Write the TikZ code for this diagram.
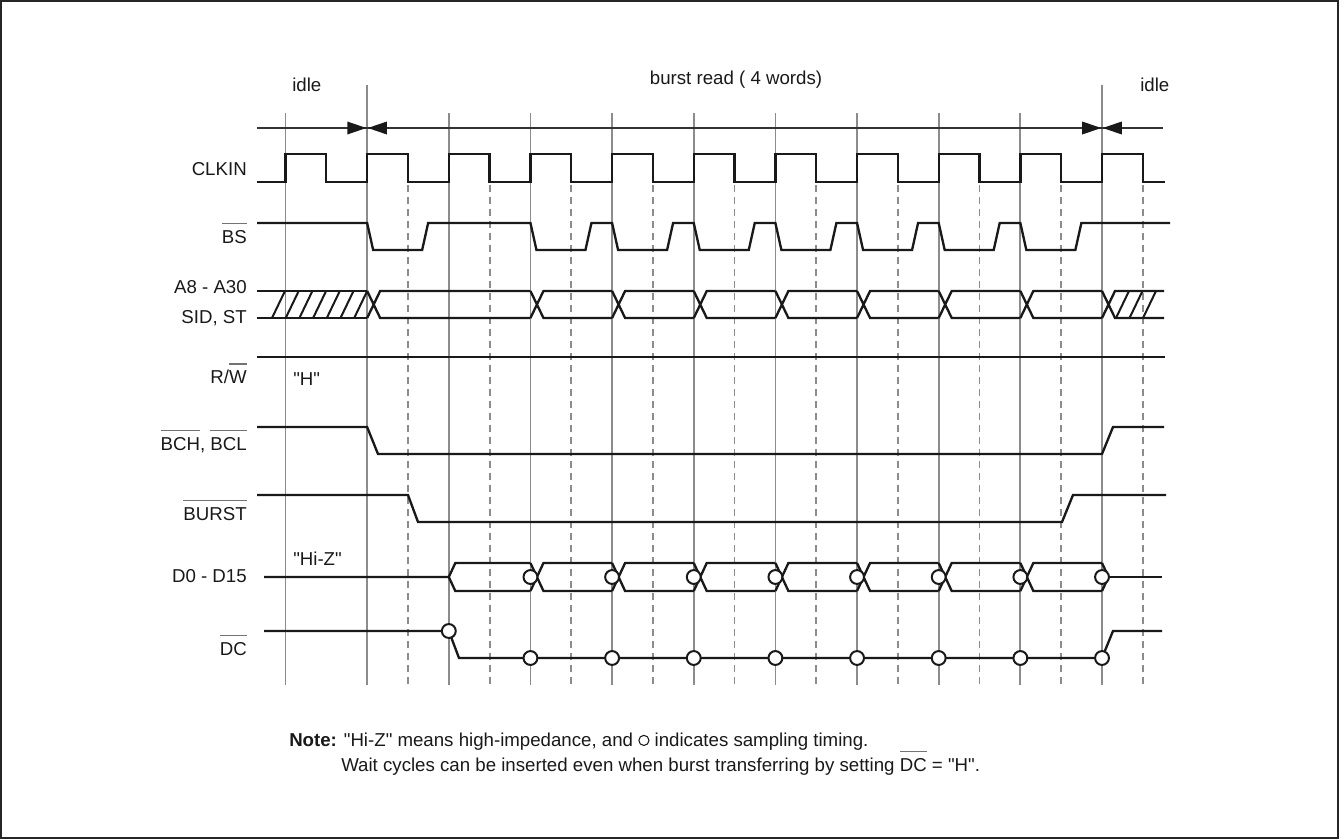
\documentclass[tikz,border=0pt]{standalone}
\usepackage{fontspec}
\setmainfont{Liberation Sans}[Ligatures=TeXOff]
\usetikzlibrary{arrows.meta}
\newcommand\ovl[1]{\vbox{{\color{black!55}\hrule height 0.8pt}\kern 4.2pt\hbox{#1}}}
\tikzset{
  gridline/.style={draw=black!45, line width=1.35pt},
  gridlined/.style={draw=black!45, line width=1.35pt, dash pattern=on 5.5pt off 3.5pt},
  sig/.style={draw=black!90, line width=1.75pt, line join=miter, miter limit=3},
  hatch/.style={draw=black!90, line width=1.5pt},
  lbl/.style={anchor=base east, inner sep=0pt, font=\fontsize{14}{16}\selectfont, text=black!90},
  txt/.style={anchor=base west, inner sep=0pt, font=\fontsize{14}{16}\selectfont, text=black!90},
  smp/.style={draw=black!90, fill=white, line width=1.5pt},
  dim/.style={draw=black!80, line width=0.8pt},
  tip/.style={fill=black!90, draw=none},
}
\begin{document}
\begin{tikzpicture}[x=0.75pt,y=-0.75pt]
\useasboundingbox (0,0) rectangle (1339,839);
\draw[line width=1.4pt, black!85] (1,1) rectangle (1338,838);

% grid lines
\foreach \i in {0,2,3,...,9} \draw[gridline] ({285.5+81.65*\i},113) -- ({285.5+81.65*\i},685);
\foreach \i in {1,10} \draw[gridline] ({285.5+81.65*\i},85) -- ({285.5+81.65*\i},685);
\foreach \i in {1,...,10} \draw[gridlined] ({326.3+81.65*\i},185) -- ({326.3+81.65*\i},685);

% phase dimension line
\coordinate (dl) at (257,128);
\coordinate (dm1) at (367.1,128);
\coordinate (dm2) at (1102,128);
\coordinate (dr) at (1163,128);
\draw[dim] (dl) -- (dr);
\fill[tip] ([xshift=-0.6pt]dm1) -- ++(-19,-6.5) -- ++(0,13) -- cycle;
\fill[tip] ([xshift=0.6pt]dm1) -- ++(19,-6.5) -- ++(0,13) -- cycle;
\fill[tip] ([xshift=-0.6pt]dm2) -- ++(-19,-6.5) -- ++(0,13) -- cycle;
\fill[tip] ([xshift=0.6pt]dm2) -- ++(19,-6.5) -- ++(0,13) -- cycle;

\node[txt] (idle1) at (292,91) {idle};
\node[txt, anchor=base] (burst) at (736,84) {burst read ( 4 words)};
\node[txt] (idle2) at (1140,91) {idle};

% CLKIN
\draw[sig] (257,182) foreach \i in {0,...,10} { -- ({285.5+81.65*\i},182) -- ++(0,-28) -- ++(40.8,0) -- ++(0,28) } -- (1165,182);

% BS
\draw[sig] (257,223) foreach \i in {1,3,4,5,6,7,8,9} { -- ({285.5+81.65*\i},223) -- ++(6,27) -- ++(49,0) -- ++(6,-27) } -- (1170,223);

% address bus
\draw[sig] (257,291) -- (367.1,291) (257,318) -- (367.1,318);
\foreach \k in {0,...,6} \draw[hatch] ({272+13.7*\k},318) -- ++(13,-27);
\foreach \a/\b in {1/3,3/4,4/5,5/6,6/7,7/8,8/9,9/10}
  \draw[sig] ({285.5+81.65*\a},291) -- ++(13,27) -- ({285.5+81.65*\b},318)
             ({285.5+81.65*\a},318) -- ++(13,-27) -- ({285.5+81.65*\b},291);
\draw[sig] (1102,291) -- ++(13,27) -- (1164,318) (1102,318) -- ++(13,-27) -- (1164,291);
\foreach \k in {0,1,2} \draw[hatch] ({1116+13.5*\k},318) -- ++(13,-27);

% R/W
\draw[sig] (257,357) -- (1165,357);

% BCH, BCL
\draw[sig] (257,427) -- (367.1,427) -- (378,454) -- (1102,454) -- (1113,427) -- (1164,427);

% BURST
\draw[sig] (257,495) -- (408,495) -- (418,522) -- (1062,522) -- (1073,495) -- (1166,495);

% D0 - D15
\draw[sig] (264,577) -- (448.8,577) -- ++(6.5,-14) -- (530.45,563)
           (448.8,577) -- ++(6.5,14) -- (530.45,591);
\foreach \a/\b in {3/4,4/5,5/6,6/7,7/8,8/9,9/10}
  \draw[sig] ({285.5+81.65*\a},563) -- ++(13,28) -- ({285.5+81.65*\b},591)
             ({285.5+81.65*\a},591) -- ++(13,-28) -- ({285.5+81.65*\b},563);
\draw[sig] (1102,563) -- ++(6.5,14) -- ++(-6.5,14);
\draw[sig] (1102,577) -- (1162,577);
\foreach \i in {3,...,10} \draw[smp] ({285.5+81.65*\i},577) circle[radius=5.2pt];

% DC
\draw[sig] (264,631) -- (448.8,631) -- (459,658) -- (1102,658) -- (1113,631) -- (1162,631);
\draw[smp] (448.8,631) circle[radius=5.2pt];
\foreach \i in {3,...,10} \draw[smp] ({285.5+81.65*\i},658) circle[radius=5.2pt];

% signal labels
\node[lbl] (lclk) at (247,175) {CLKIN};
\node[lbl] (lbs) at (247,243) {\ovl{BS}};
\node[lbl] (la) at (247,293.5) {A8 - A30};
\node[lbl] (lsid) at (247,323) {SID, ST};
\node[lbl] (lrw) at (247,383) {R/\ovl{W}};
\node[lbl] (lbch) at (247,450) {\ovl{BCH}, \ovl{BCL}};
\node[lbl] (lburst) at (247,520) {\ovl{BURST}};
\node[lbl] (ld) at (247,582) {D0 - D15};
\node[lbl] (ldc) at (247,655) {\ovl{DC}};

\node[txt] (hh) at (293,385) {"H"};
\node[txt] (hz) at (293,565) {"Hi-Z"};

% note
\node[txt] (note1) at (289,746) {\textbf{Note:} "Hi-Z" means high-impedance, and \tikz\draw[line width=0.8pt, black!90] (0,0) circle[radius=3.8pt]; indicates sampling timing.};
\node[txt] (note2) at (341,771) {Wait cycles can be inserted even when burst transferring by setting \ovl{DC} = "H".};
\end{tikzpicture}
\end{document}
